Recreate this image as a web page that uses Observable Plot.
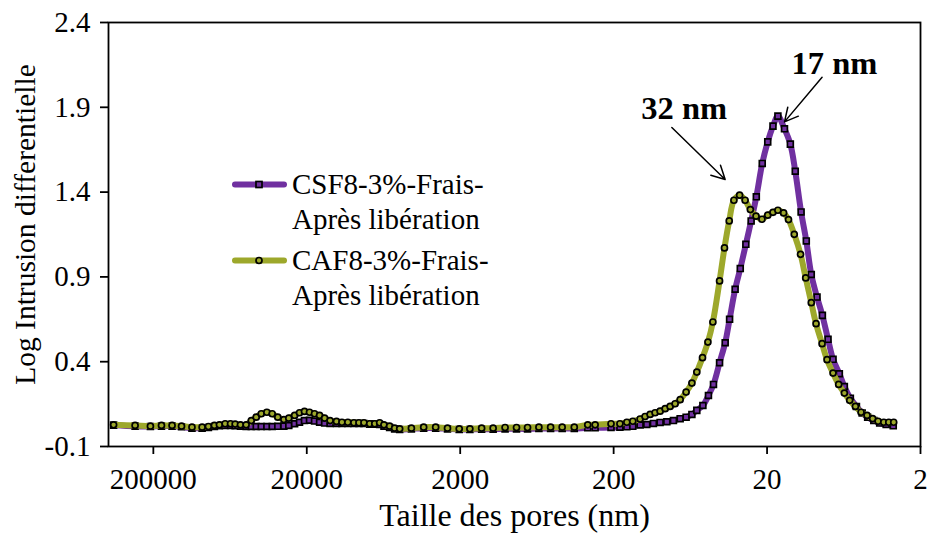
<!DOCTYPE html>
<html>
<head>
<meta charset="utf-8">
<script src="https://cdn.jsdelivr.net/npm/d3@7"></script>
<script src="https://cdn.jsdelivr.net/npm/@observablehq/plot@0.6"></script>
<style>
  body { margin: 0; background: #fff; }
  #wrap { position: relative; width: 930px; height: 535px; font-family: "Liberation Serif", "Times New Roman", serif; }
  #legend { position: absolute; left: 232px; top: 167px; font-size: 29px; line-height: 35px; color: #000; }
  .item { display: flex; align-items: flex-start; margin-bottom: 5.7px; }
  .item svg { flex: none; }
</style>
</head>
<body>
<div id="wrap"><div id="legend"></div></div>
<script>
// ---------- data ----------
const xTicks = [200000, 20000, 2000, 200, 20, 2];
const yTicks = [-0.1, 0.4, 0.9, 1.4, 1.9, 2.4];
const xTitle = "Taille des pores (nm)";
const yTitle = "Log Intrusion differentielle";
const seriesNames = [["CSF8-3%-Frais-", "Après libération"], ["CAF8-3%-Frais-", "Après libération"]];
const seriesColors = ["#7030a0", "#9da82b"];
const seriesSymbols = ["square", "circle"];

// CSF8-3%-Frais-Après libération (pore size nm, log differential intrusion)
const csfSize = [363000, 263000, 209000, 177000, 151000, 131000, 112000, 96200, 87500, 80000,
  74200, 68100, 62800, 58600, 54100, 49700, 46000, 42700, 39600, 36400,
  33600, 30900, 28200, 26200, 24000, 22300, 20700, 19200, 17800, 16500,
  15300, 14100, 12800, 11800, 10800, 9860, 9140, 8480, 7780, 7210,
  6700, 6280, 5770, 5350, 4960, 4160, 3460, 2890, 2420, 2030,
  1730, 1450, 1220, 1020, 859, 728, 614, 515, 433, 361,
  295, 264, 208, 182, 164, 150,
  134.5, 121.6, 110.1, 99.6, 90.0, 81.5, 73.7, 67.4, 61.8, 57.4,
  52.4, 48.2, 44.7, 40.8, 37.5, 35.1, 32.3, 29.9, 27.5, 25.4,
  23.5, 21.5, 19.8, 18.3, 17.0, 15.4, 14.1, 13.1, 12.0, 11.1,
  10.3, 9.45, 8.72, 8.01, 7.43, 6.76, 6.27, 5.73, 5.23, 4.80,
  4.42, 4.03, 3.69, 3.35, 3.01];
const csfValue = [0.026, 0.020, 0.018, 0.020, 0.020, 0.016, 0.008, 0.008, 0.012, 0.018,
  0.022, 0.024, 0.024, 0.022, 0.020, 0.018, 0.018, 0.018, 0.018, 0.018,
  0.018, 0.019, 0.020, 0.024, 0.034, 0.043, 0.053, 0.055, 0.050, 0.043,
  0.038, 0.036, 0.036, 0.036, 0.036, 0.036, 0.036, 0.036, 0.032, 0.032,
  0.030, 0.020, 0.012, 0.004, 0.000, 0.004, 0.008, 0.008, 0.004, 0.000,
  0.000, 0.002, 0.002, 0.004, 0.004, 0.004, 0.006, 0.006, 0.006, 0.006,
  0.010, 0.010, 0.012, 0.014, 0.016, 0.019,
  0.027, 0.030, 0.036, 0.042, 0.046, 0.053, 0.064, 0.073, 0.089, 0.113,
  0.142, 0.201, 0.266, 0.394, 0.512, 0.650, 0.827, 0.949, 1.092, 1.230,
  1.372, 1.569, 1.696, 1.789, 1.848, 1.773, 1.683, 1.523, 1.283, 1.112,
  0.914, 0.781, 0.673, 0.532, 0.414, 0.329, 0.254, 0.185, 0.136, 0.097,
  0.073, 0.053, 0.038, 0.030, 0.022];

// CAF8-3%-Frais-Après libération
const cafSize = [363000, 263000, 209000, 177000, 151000, 131000, 112000, 96200, 87500, 80000,
  74200, 68100, 62800, 58600, 54100, 49700, 46000, 42700, 39600, 36400,
  33600, 30900, 28200, 26200, 24000, 22300, 20700, 19200, 17800, 16500,
  15300, 14100, 12800, 11800, 10800, 9860, 9140, 8480, 7780, 7210,
  6700, 6280, 5770, 5350, 4960, 4160, 3460, 2890, 2420, 2030,
  1730, 1450, 1220, 1020, 859, 728, 614, 515, 433, 361,
  295, 264, 208, 182, 164, 150,
  134.5, 124.8, 115.7, 107.4, 99.6, 92.3, 85.7, 79.5, 73.7, 67.4,
  61.8, 57.4, 52.7, 48.6, 45.1, 40.8, 37.9, 35.3, 32.9, 30.2,
  27.8, 25.7, 23.6, 21.6, 19.8, 18.3, 17.0, 15.6, 14.5, 13.3,
  12.1, 11.2, 10.3, 9.59, 8.76, 8.13, 7.43, 6.83, 6.27, 5.79,
  5.31, 4.88, 4.46, 4.10, 3.78, 3.47, 3.22, 2.99];
const cafValue = [0.028, 0.024, 0.020, 0.024, 0.024, 0.020, 0.014, 0.014, 0.018, 0.024,
  0.028, 0.034, 0.034, 0.032, 0.028, 0.028, 0.053, 0.073, 0.093, 0.102,
  0.093, 0.073, 0.059, 0.067, 0.083, 0.099, 0.107, 0.102, 0.093, 0.083,
  0.067, 0.053, 0.048, 0.043, 0.043, 0.040, 0.040, 0.040, 0.034, 0.034,
  0.040, 0.028, 0.020, 0.008, 0.004, 0.008, 0.014, 0.014, 0.008, 0.004,
  0.004, 0.008, 0.008, 0.012, 0.012, 0.012, 0.014, 0.014, 0.014, 0.014,
  0.028, 0.028, 0.034, 0.034, 0.043, 0.049,
  0.062, 0.077, 0.089, 0.099, 0.108, 0.123, 0.136, 0.152, 0.176, 0.221,
  0.274, 0.339, 0.424, 0.516, 0.634, 0.876, 1.071, 1.230, 1.352, 1.382,
  1.352, 1.297, 1.258, 1.240, 1.264, 1.281, 1.293, 1.277, 1.238, 1.151,
  1.033, 0.894, 0.748, 0.624, 0.506, 0.412, 0.333, 0.266, 0.215, 0.172,
  0.136, 0.102, 0.083, 0.064, 0.049, 0.043, 0.043, 0.043];

// peak annotations
const annLabel = ["32 nm", "17 nm"];
const annTextX = [69.4, 7.28];
const annTextY = [1.895, 2.155];
const annFromX = [83.5, 8.76];
const annFromY = [1.781, 2.077];
const annToX = [37.5, 15.4];
const annToY = [1.474, 1.814];

// ---------- tables ----------
const csf = csfSize.map((s, i) => ({size: s, value: csfValue[i]}));
const caf = cafSize.map((s, i) => ({size: s, value: cafValue[i]}));
const ann = annLabel.map((l, i) => ({label: l, tx: annTextX[i], ty: annTextY[i],
  x1: annFromX[i], y1: annFromY[i], x2: annToX[i], y2: annToY[i]}));
const series = [csf, caf];

const marks = [Plot.frame({stroke: "black", strokeWidth: 1.8})];
series.forEach((data, i) => {
  marks.push(Plot.line(data, {x: "size", y: "value", stroke: seriesColors[i], strokeWidth: 6,
    curve: "catmull-rom", strokeLinecap: "round", strokeLinejoin: "round"}));
  marks.push(Plot.dot(data, {x: "size", y: "value", symbol: seriesSymbols[i],
    r: i === 0 ? 3.3 : 3.0, fill: seriesColors[i], stroke: "black", strokeWidth: 1.7}));
});
marks.push(
  Plot.arrow(ann, {x1: "x1", y1: "y1", x2: "x2", y2: "y2", stroke: "black", strokeWidth: 1.5, headLength: 15, headAngle: 55}),
  Plot.text(ann, {x: "tx", y: "ty", text: "label", fontWeight: "bold", fontSize: 32.5, fill: "black"}),
  Plot.axisX(xTicks, {tickSize: 8, tickPadding: 14, tickFormat: d => String(d), strokeWidth: 1.8, label: null}),
  Plot.axisY(yTicks, {tickSize: 8, tickPadding: 10, tickFormat: d => d.toFixed(1), strokeWidth: 1.8, label: null}),
  Plot.text([xTitle], {frameAnchor: "bottom", textAnchor: "middle", dy: 79, fontSize: 32, fill: "black"}),
  Plot.text([yTitle], {frameAnchor: "left", textAnchor: "middle", rotate: -90, dx: -83, dy: -10, fontSize: 29.5, fill: "black"})
);

const chart = Plot.plot({
  width: 930,
  height: 535,
  marginLeft: 108,
  marginRight: 10,
  marginTop: 22,
  marginBottom: 89,
  style: {fontFamily: "'Liberation Serif', 'Times New Roman', serif", fontSize: "29px", color: "black", background: "white"},
  x: {type: "log", domain: [392000, 2]},
  y: {domain: [-0.1, 2.4]},
  marks
});
const wrap = document.getElementById("wrap");
wrap.insertBefore(chart, wrap.firstChild);

// ---------- legend ----------
const legend = document.getElementById("legend");
seriesNames.forEach((lines, i) => {
  const item = document.createElement("div");
  item.className = "item";
  const sym = seriesSymbols[i] === "square"
    ? `<rect x="24" y="14.5" width="6" height="6" fill="${seriesColors[i]}" stroke="black" stroke-width="1.7"/>`
    : `<circle cx="27" cy="17.5" r="3" fill="${seriesColors[i]}" stroke="black" stroke-width="1.7"/>`;
  item.innerHTML = `<svg width="60" height="35"><line x1="3" x2="52" y1="17.5" y2="17.5" stroke="${seriesColors[i]}" stroke-width="6" stroke-linecap="round"/>${sym}</svg><div>${lines.join("<br>")}</div>`;
  legend.appendChild(item);
});
</script>
</body>
</html>
